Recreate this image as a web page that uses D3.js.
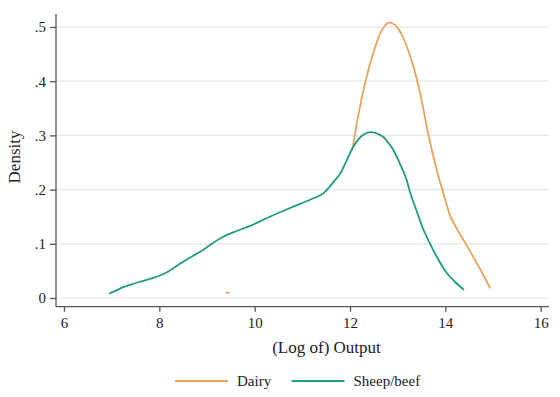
<!DOCTYPE html>
<html>
<head>
<meta charset="utf-8">
<script src="https://cdn.jsdelivr.net/npm/d3@7"></script>
<style>
    body { margin: 0; background: #fff; }
    text { font-family: "Liberation Serif", "DejaVu Serif", serif; fill: #222; }
</style>
</head>
<body>
<div id="container"></div>
<script>
// data (log output vs kernel density)
var dairyX = [9.40, 9.43, 9.47, null, 12.04, 12.07, 12.14, 12.21, 12.28, 12.35, 12.42, 12.49, 12.56, 12.63, 12.72, 12.82, 12.92, 13.01, 13.10, 13.19, 13.26, 13.33, 13.40, 13.47, 13.54, 13.61, 13.68, 13.75, 13.85, 13.96, 14.10, 14.24, 14.38, 14.52, 14.66, 14.80, 14.94];
var dairyY = [0.009, 0.010, 0.009, null, 0.272, 0.285, 0.321, 0.353, 0.383, 0.408, 0.432, 0.452, 0.472, 0.488, 0.501, 0.508, 0.505, 0.497, 0.483, 0.464, 0.447, 0.427, 0.404, 0.378, 0.348, 0.316, 0.287, 0.261, 0.226, 0.193, 0.152, 0.128, 0.107, 0.086, 0.064, 0.042, 0.018];
var sheepX = [6.95, 7.10, 7.24, 7.42, 7.59, 7.87, 8.15, 8.43, 8.71, 8.85, 9.10, 9.34, 9.55, 9.90, 10.32, 10.74, 11.23, 11.44, 11.56, 11.69, 11.79, 11.93, 12.07, 12.18, 12.28, 12.37, 12.45, 12.58, 12.70, 12.80, 12.91, 13.05, 13.19, 13.26, 13.40, 13.54, 13.68, 13.82, 14.03, 14.20, 14.39];
var sheepY = [0.008, 0.014, 0.020, 0.025, 0.030, 0.037, 0.047, 0.063, 0.078, 0.085, 0.100, 0.113, 0.121, 0.133, 0.150, 0.166, 0.184, 0.193, 0.204, 0.218, 0.229, 0.254, 0.279, 0.293, 0.301, 0.305, 0.306, 0.303, 0.297, 0.287, 0.273, 0.247, 0.217, 0.195, 0.160, 0.126, 0.100, 0.076, 0.046, 0.030, 0.015];
var xTicks = [6, 8, 10, 12, 14, 16];
var yTicks = [0, 0.1, 0.2, 0.3, 0.4, 0.5];
var yTickLabels = ["0", ".1", ".2", ".3", ".4", ".5"];
var seriesNames = ["Dairy", "Sheep/beef"];

var W = 560, H = 397,
    col = {dairy: "#eaa25a", sheep: "#1f9c84", axis: "#555", grid: "#e6e6e6"};

var svg = d3.select("#container")
    .append("svg")
    .attr("width", W)
    .attr("height", H);

// scales: ticks 6..16 at 64..540.7, density 0..0.5 at 298..27
var x = d3.scaleLinear().domain([6, 16]).range([64, 540.7]);
var y = d3.scaleLinear().domain([0, 0.5]).range([298, 27]);
var plotL = 56, plotR = 549, plotT = 14, plotB = 306.7;

// gridlines
svg.append("g")
    .selectAll("line")
    .data(yTicks)
    .enter()
    .append("line")
        .attr("x1", plotL + 1)
        .attr("x2", plotR)
        .attr("y1", function(d) { return y(d); })
        .attr("y2", function(d) { return y(d); })
        .attr("stroke", col.grid)
        .attr("stroke-width", 1.2);

// Y axis
var yAxis = svg.append("g")
    .attr("transform", "translate(" + plotL + ",0)")
    .call(d3.axisLeft(y).tickValues(yTicks).tickSize(6).tickPadding(4)
        .tickFormat(function(d, i) { return yTickLabels[i]; }));
yAxis.select(".domain").attr("d", "M0," + plotT + "V" + plotB);

// X axis
var xAxis = svg.append("g")
    .attr("transform", "translate(0," + plotB + ")")
    .call(d3.axisBottom(x).tickValues(xTicks).tickSize(5).tickPadding(6).tickFormat(d3.format("d")));
xAxis.select(".domain").attr("d", "M" + plotL + ",0H" + plotR);

svg.selectAll(".tick line, .domain").attr("stroke", col.axis).attr("stroke-width", 1.3);
svg.selectAll(".tick text")
    .style("font-family", "'Liberation Serif', serif")
    .style("font-size", "15px")
    .attr("fill", "#222");

// labels
svg.append("text")
    .attr("x", 326.5)
    .attr("y", 353)
    .attr("text-anchor", "middle")
    .style("font-size", "17px")
    .text("(Log of) Output");

svg.append("text")
    .attr("transform", "rotate(-90)")
    .attr("x", -157)
    .attr("y", 20)
    .attr("text-anchor", "middle")
    .style("font-size", "17px")
    .text("Density");

// curves
var line = d3.line()
    .defined(function(d) { return d[0] !== null; })
    .x(function(d) { return x(d[0]); })
    .y(function(d) { return y(d[1]); })
    .curve(d3.curveMonotoneX);

svg.append("path")
    .datum(dairyX.map(function(v, i) { return [v, dairyY[i]]; }))
    .attr("d", line)
    .attr("fill", "none")
    .attr("stroke", col.dairy)
    .attr("stroke-width", 1.8);

svg.append("path")
    .datum(sheepX.map(function(v, i) { return [v, sheepY[i]]; }))
    .attr("d", line)
    .attr("fill", "none")
    .attr("stroke", col.sheep)
    .attr("stroke-width", 1.8);

// legend
var legend = svg.append("g").attr("transform", "translate(0,381)");
var legendX = [175, 291.5];
var legendCol = [col.dairy, col.sheep];
seriesNames.forEach(function(name, i) {
    legend.append("line")
        .attr("x1", legendX[i])
        .attr("x2", legendX[i] + 53)
        .attr("stroke", legendCol[i])
        .attr("stroke-width", 1.8);
    legend.append("text")
        .attr("x", legendX[i] + 62)
        .attr("y", 5)
        .style("font-size", "15px")
        .text(name);
});
</script>
</body>
</html>
